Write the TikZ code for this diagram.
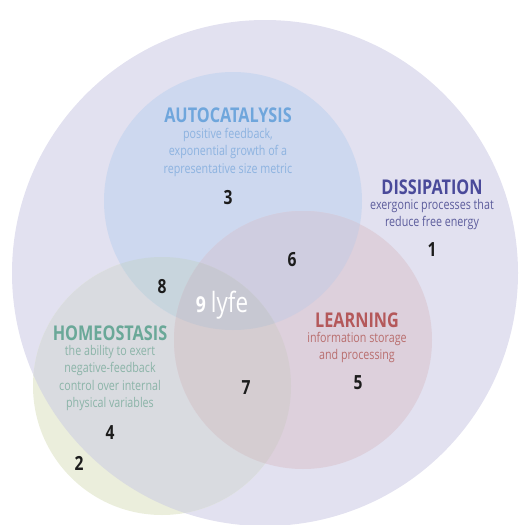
\documentclass[tikz,border=0pt]{standalone}
\usepackage{fontspec}
\setmainfont{Open Sans}[FakeStretch=0.8]
\definecolor{dissbg}{HTML}{E2E1F0}
\definecolor{homout}{HTML}{EBEEDC}
\definecolor{homin}{HTML}{D9DBE0}
\definecolor{autobg}{HTML}{CDD8EF}
\definecolor{learnbg}{HTML}{DDD0DC}
\definecolor{autolearn}{HTML}{CFCDE0}
\definecolor{autohom}{HTML}{C8D5DD}
\definecolor{learnhom}{HTML}{D5CDD1}
\definecolor{allthree}{HTML}{C7C8D2}
\definecolor{autotitle}{HTML}{6FA6DC}
\definecolor{autotext}{HTML}{8DB3E0}
\definecolor{disstitle}{HTML}{4A4A9A}
\definecolor{disstext}{HTML}{5C5C9C}
\definecolor{learntitle}{HTML}{B4585A}
\definecolor{learntext}{HTML}{B96E6E}
\definecolor{homtitle}{HTML}{6AA898}
\definecolor{homtext}{HTML}{8BB4A8}
\definecolor{numcol}{HTML}{1C1C1C}
\tikzset{
  titletext/.style={inner sep=0pt, font=\fontsize{20.3}{22}\selectfont\bfseries},
  bodytext/.style={inner sep=0pt, align=center, font=\fontsize{13.4}{17.4}\selectfont},
  numtext/.style={inner sep=0pt, text=numcol, font=\fontsize{19.5}{21}\selectfont\bfseries}
}
\begin{document}
\begin{tikzpicture}[x=1pt,y=-1pt]
\useasboundingbox (0,0) rectangle (520,525);
\coordinate (D) at (265,273);
\coordinate (A) at (233,201);
\coordinate (L) at (303,340);
\coordinate (H) at (162,386);
% circles
\fill[dissbg] (D) circle (253pt);
\fill[homout] (H) circle (129pt);
\begin{scope}
  \clip (D) circle (253pt);
  \fill[homin] (H) circle (129pt);
\end{scope}
\fill[autobg] (A) circle (129pt);
\fill[learnbg] (L) circle (129pt);
\begin{scope}
  \clip (A) circle (129pt);
  \fill[autolearn] (L) circle (129pt);
  \fill[autohom] (H) circle (129pt);
\end{scope}
\begin{scope}
  \clip (L) circle (129pt);
  \fill[learnhom] (H) circle (129pt);
\end{scope}
\begin{scope}
  \clip (A) circle (129pt);
  \clip (L) circle (129pt);
  \fill[allthree] (H) circle (129pt);
\end{scope}
% autocatalysis
\node[titletext, text=autotitle] (autot) at (228,115) {AUTOCATALYSIS};
\node[bodytext, text=autotext, anchor=north] (autob) at (228,128) {positive feedback,\\exponential growth of a\\representative size metric};
\node[numtext] (n3) at (228,198) {3};
% dissipation
\node[titletext, text=disstitle] (disst) at (432,187) {DISSIPATION};
\node[bodytext, text=disstext, anchor=north] (dissb) at (432,199) {exergonic processes that\\reduce free energy};
\node[numtext] (n1) at (432,250) {1};
% learning
\node[titletext, text=learntitle] (learnt) at (357,320) {LEARNING};
\node[bodytext, text=learntext, anchor=north] (learnb) at (357,332) {information storage\\and processing};
\node[numtext] (n5) at (358,383) {5};
% homeostasis
\node[titletext, text=homtitle] (homt) at (110,333) {HOMEOSTASIS};
\node[bodytext, text=homtext, anchor=north] (homb) at (110,345) {the ability to exert\\negative-feedback\\control over internal\\physical variables};
\node[numtext] (n4) at (110,433) {4};
% other numbers
\node[numtext] (n2) at (79,463) {2};
\node[numtext] (n6) at (292,260) {6};
\node[numtext] (n7) at (246,388) {7};
\node[numtext] (n8) at (162,287) {8};
\node[inner sep=0pt, text=white, anchor=base] (lyfe) at (222,312) {{\fontsize{22}{24}\selectfont\bfseries 9}\hspace{5pt}{\fontsize{28}{30}\selectfont lyfe}};
\end{tikzpicture}
\end{document}
